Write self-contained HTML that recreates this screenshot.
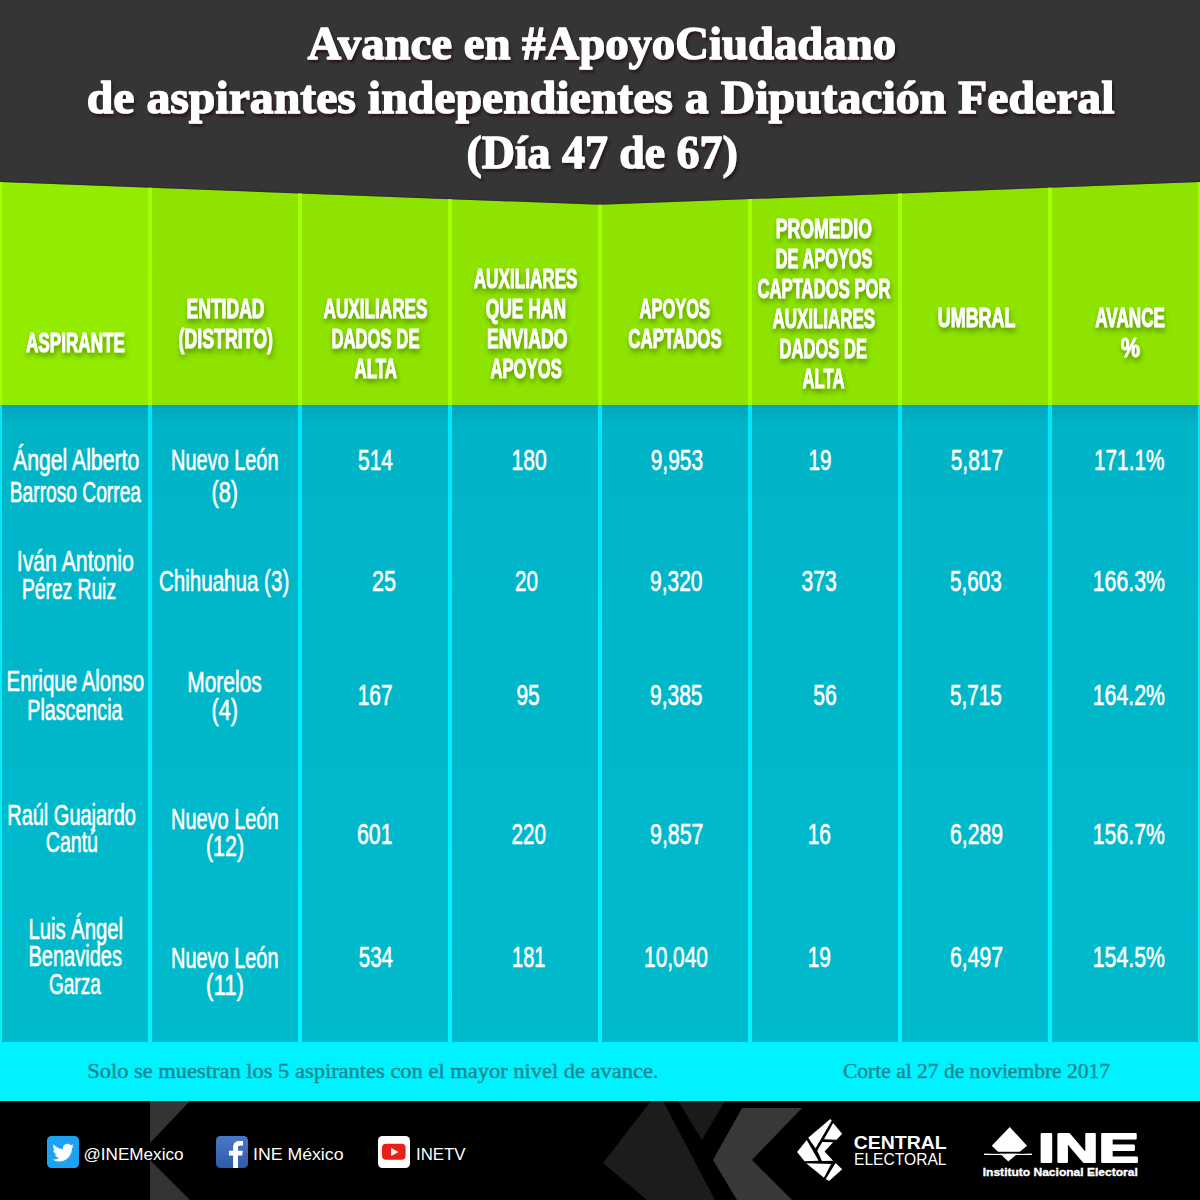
<!DOCTYPE html>
<html lang="es"><head><meta charset="utf-8"><title>Avance en #ApoyoCiudadano</title>
<style>html,body{margin:0;padding:0;background:#000;}body{width:1200px;height:1200px;overflow:hidden;font-family:"Liberation Sans",sans-serif;}svg{display:block}</style></head>
<body>
<svg width="1200" height="1200" viewBox="0 0 1200 1200">
<defs>
<linearGradient id="gGreen" x1="0" y1="0" x2="1" y2="0">
  <stop offset="0" stop-color="#94ed00"/><stop offset="0.125" stop-color="#93ec00"/><stop offset="0.125" stop-color="#8ee400"/><stop offset="1" stop-color="#8ee400"/>
</linearGradient>
<linearGradient id="gShadow" x1="0" y1="0" x2="0" y2="1">
  <stop offset="0" stop-color="#005a8c" stop-opacity="0.18"/><stop offset="1" stop-color="#005a8c" stop-opacity="0"/>
</linearGradient>
<linearGradient id="gTeal" x1="0" y1="0" x2="0" y2="1">
  <stop offset="0" stop-color="#00b4c8"/><stop offset="1" stop-color="#00bbcd"/>
</linearGradient>
<linearGradient id="gLime" x1="0" y1="0" x2="0" y2="1">
  <stop offset="0" stop-color="#a0ff00"/><stop offset="1" stop-color="#a2ff00"/>
</linearGradient>
<linearGradient id="gCyan" x1="0" y1="0" x2="0" y2="1">
  <stop offset="0" stop-color="#00e6f8"/><stop offset="1" stop-color="#00f6ff"/>
</linearGradient>
<filter id="fTitle" x="-5%" y="-20%" width="110%" height="160%">
  <feGaussianBlur in="SourceAlpha" stdDeviation="1.2"/>
  <feOffset dx="1.5" dy="2.5" result="b"/>
  <feFlood flood-color="#2a1820" flood-opacity="0.95"/>
  <feComposite in2="b" operator="in"/>
  <feMerge><feMergeNode/><feMergeNode in="SourceGraphic"/></feMerge>
</filter>
<filter id="fHead" x="-10%" y="-30%" width="120%" height="180%">
  <feGaussianBlur in="SourceAlpha" stdDeviation="2.4"/>
  <feOffset dx="1" dy="3.5" result="b"/>
  <feFlood flood-color="#2a4a00" flood-opacity="0.5"/>
  <feComposite in2="b" operator="in"/>
  <feMerge><feMergeNode/><feMergeNode in="SourceGraphic"/></feMerge>
</filter>
</defs>
<rect x="0" y="0" width="1200" height="1200" fill="#000"/>
<rect x="0" y="0" width="1200" height="206.8" fill="#353535"/>
<polygon points="0,182.0 600,204.8 1200,182.0 1200,405 0,405" fill="url(#gGreen)"/>
<clipPath id="cpG"><polygon points="0,182.0 600,204.8 1200,182.0 1200,405 0,405"/></clipPath>
<polyline points="0,181.4 600,204.20000000000002 1200,181.4" fill="none" stroke="#241c28" stroke-width="1.2" stroke-opacity="0.35"/>
<g clip-path="url(#cpG)"><rect x="0" y="170" width="2" height="235" fill="url(#gLime)"/><rect x="148" y="170" width="4" height="235" fill="url(#gLime)"/><rect x="298" y="170" width="4" height="235" fill="url(#gLime)"/><rect x="448" y="170" width="4" height="235" fill="url(#gLime)"/><rect x="598" y="170" width="4" height="235" fill="url(#gLime)"/><rect x="748" y="170" width="4" height="235" fill="url(#gLime)"/><rect x="898" y="170" width="4" height="235" fill="url(#gLime)"/><rect x="1048" y="170" width="4" height="235" fill="url(#gLime)"/><rect x="1198" y="170" width="2" height="235" fill="url(#gLime)"/></g>
<rect x="0" y="405" width="1200" height="637" fill="url(#gTeal)"/>
<rect x="0" y="405" width="1200" height="20" fill="url(#gShadow)"/>
<rect x="0" y="405" width="2" height="637" fill="url(#gCyan)"/><rect x="148" y="405" width="4" height="637" fill="url(#gCyan)"/><rect x="298" y="405" width="4" height="637" fill="url(#gCyan)"/><rect x="448" y="405" width="4" height="637" fill="url(#gCyan)"/><rect x="598" y="405" width="4" height="637" fill="url(#gCyan)"/><rect x="748" y="405" width="4" height="637" fill="url(#gCyan)"/><rect x="898" y="405" width="4" height="637" fill="url(#gCyan)"/><rect x="1048" y="405" width="4" height="637" fill="url(#gCyan)"/><rect x="1198" y="405" width="2" height="637" fill="url(#gCyan)"/>
<rect x="0" y="1042" width="1200" height="59" fill="#00f2ff"/>
<g>
<polygon points="150,1101 190,1101 150,1143" fill="#343434"/>
<polygon points="150,1160 150,1200 190,1200" fill="#343434"/>
<polygon points="603,1163 651,1101 663,1101 715,1200 647,1200" fill="#1c1c1c"/>
<polygon points="678,1101 725,1101 702,1140" fill="#1a1a1a"/>
<polygon points="742,1108 802,1108 752,1160 792,1200 737,1200 713,1160" fill="#383838"/>
</g>
<g font-family="Liberation Serif" font-size="46.5" font-weight="bold" text-anchor="middle" stroke-width="1.3" stroke-linejoin="round" fill="#fff" stroke="#fff" filter="url(#fTitle)"><text x="601.75" y="58.75" textLength="588.50" lengthAdjust="spacingAndGlyphs">Avance en #ApoyoCiudadano</text><text x="600.62" y="113.00" textLength="1027.75" lengthAdjust="spacingAndGlyphs">de aspirantes independientes a Diputación Federal</text><text x="602.12" y="167.50" textLength="271.25" lengthAdjust="spacingAndGlyphs">(Día 47 de 67)</text></g>
<g font-family="Liberation Sans" font-size="27.0" font-weight="bold" text-anchor="middle" stroke-width="0.95" stroke-linejoin="round" fill="#fff" stroke="#fff" filter="url(#fHead)"><text x="75.50" y="351.50" textLength="99.00" lengthAdjust="spacingAndGlyphs">ASPIRANTE</text><text x="225.50" y="317.50" textLength="78.00" lengthAdjust="spacingAndGlyphs">ENTIDAD</text><text x="225.75" y="347.50" textLength="94.50" lengthAdjust="spacingAndGlyphs">(DISTRITO)</text><text x="375.50" y="318.40" textLength="104.00" lengthAdjust="spacingAndGlyphs">AUXILIARES</text><text x="375.50" y="348.40" textLength="88.00" lengthAdjust="spacingAndGlyphs">DADOS DE</text><text x="375.75" y="378.40" textLength="42.50" lengthAdjust="spacingAndGlyphs">ALTA</text><text x="525.62" y="288.40" textLength="103.75" lengthAdjust="spacingAndGlyphs">AUXILIARES</text><text x="525.88" y="318.40" textLength="80.25" lengthAdjust="spacingAndGlyphs">QUE HAN</text><text x="527.25" y="348.40" textLength="80.50" lengthAdjust="spacingAndGlyphs">ENVIADO</text><text x="526.12" y="378.40" textLength="71.25" lengthAdjust="spacingAndGlyphs">APOYOS</text><text x="674.75" y="318.40" textLength="70.50" lengthAdjust="spacingAndGlyphs">APOYOS</text><text x="675.00" y="348.40" textLength="93.50" lengthAdjust="spacingAndGlyphs">CAPTADOS</text><text x="823.88" y="238.40" textLength="96.25" lengthAdjust="spacingAndGlyphs">PROMEDIO</text><text x="824.12" y="268.40" textLength="96.75" lengthAdjust="spacingAndGlyphs">DE APOYOS</text><text x="824.00" y="298.40" textLength="133.00" lengthAdjust="spacingAndGlyphs">CAPTADOS POR</text><text x="823.75" y="328.40" textLength="102.50" lengthAdjust="spacingAndGlyphs">AUXILIARES</text><text x="823.25" y="358.40" textLength="87.50" lengthAdjust="spacingAndGlyphs">DADOS DE</text><text x="823.50" y="388.40" textLength="42.00" lengthAdjust="spacingAndGlyphs">ALTA</text><text x="976.62" y="326.50" textLength="77.75" lengthAdjust="spacingAndGlyphs">UMBRAL</text><text x="1130.12" y="326.50" textLength="69.75" lengthAdjust="spacingAndGlyphs">AVANCE</text><text x="1130.38" y="356.50" textLength="19.25" lengthAdjust="spacingAndGlyphs">%</text></g>
<g font-family="Liberation Sans" font-size="28.8" font-weight="normal" text-anchor="middle" stroke-width="0.6" stroke-linejoin="round" fill="#fff" stroke="#fff" ><text x="76.13" y="470.00" textLength="126.25" lengthAdjust="spacingAndGlyphs">Ángel Alberto</text><text x="75.38" y="501.50" textLength="131.25" lengthAdjust="spacingAndGlyphs">Barroso Correa</text><text x="224.75" y="470.00" textLength="107.50" lengthAdjust="spacingAndGlyphs">Nuevo León</text><text x="224.75" y="501.50" textLength="26.50" lengthAdjust="spacingAndGlyphs">(8)</text><text x="375.50" y="470.00" textLength="35.00" lengthAdjust="spacingAndGlyphs">514</text><text x="529.12" y="470.00" textLength="35.25" lengthAdjust="spacingAndGlyphs">180</text><text x="676.88" y="470.00" textLength="52.25" lengthAdjust="spacingAndGlyphs">9,953</text><text x="820.00" y="470.00" textLength="23.00" lengthAdjust="spacingAndGlyphs">19</text><text x="976.88" y="470.00" textLength="52.25" lengthAdjust="spacingAndGlyphs">5,817</text><text x="1129.25" y="470.00" textLength="70.50" lengthAdjust="spacingAndGlyphs">171.1%</text><text x="75.25" y="571.25" textLength="117.00" lengthAdjust="spacingAndGlyphs">Iván Antonio</text><text x="69.00" y="598.50" textLength="94.00" lengthAdjust="spacingAndGlyphs">Pérez Ruiz</text><text x="224.12" y="590.50" textLength="130.25" lengthAdjust="spacingAndGlyphs">Chihuahua (3)</text><text x="384.00" y="590.75" textLength="24.00" lengthAdjust="spacingAndGlyphs">25</text><text x="526.50" y="590.75" textLength="23.00" lengthAdjust="spacingAndGlyphs">20</text><text x="676.25" y="590.75" textLength="52.50" lengthAdjust="spacingAndGlyphs">9,320</text><text x="819.12" y="590.75" textLength="35.25" lengthAdjust="spacingAndGlyphs">373</text><text x="975.87" y="590.75" textLength="51.75" lengthAdjust="spacingAndGlyphs">5,603</text><text x="1128.88" y="590.75" textLength="72.25" lengthAdjust="spacingAndGlyphs">166.3%</text><text x="75.38" y="691.25" textLength="137.75" lengthAdjust="spacingAndGlyphs">Enrique Alonso</text><text x="74.88" y="720.00" textLength="95.25" lengthAdjust="spacingAndGlyphs">Plascencia</text><text x="224.50" y="692.00" textLength="74.50" lengthAdjust="spacingAndGlyphs">Morelos</text><text x="224.75" y="720.00" textLength="26.50" lengthAdjust="spacingAndGlyphs">(4)</text><text x="375.12" y="705.00" textLength="34.75" lengthAdjust="spacingAndGlyphs">167</text><text x="528.12" y="705.00" textLength="23.25" lengthAdjust="spacingAndGlyphs">95</text><text x="676.25" y="705.00" textLength="52.50" lengthAdjust="spacingAndGlyphs">9,385</text><text x="825.00" y="705.00" textLength="23.50" lengthAdjust="spacingAndGlyphs">56</text><text x="975.87" y="705.00" textLength="51.75" lengthAdjust="spacingAndGlyphs">5,715</text><text x="1128.88" y="705.00" textLength="72.25" lengthAdjust="spacingAndGlyphs">164.2%</text><text x="71.62" y="825.00" textLength="128.75" lengthAdjust="spacingAndGlyphs">Raúl Guajardo</text><text x="71.88" y="852.00" textLength="52.25" lengthAdjust="spacingAndGlyphs">Cantú</text><text x="224.75" y="828.75" textLength="107.50" lengthAdjust="spacingAndGlyphs">Nuevo León</text><text x="225.00" y="856.00" textLength="38.00" lengthAdjust="spacingAndGlyphs">(12)</text><text x="374.75" y="844.25" textLength="35.50" lengthAdjust="spacingAndGlyphs">601</text><text x="528.75" y="844.25" textLength="34.50" lengthAdjust="spacingAndGlyphs">220</text><text x="676.75" y="844.25" textLength="53.50" lengthAdjust="spacingAndGlyphs">9,857</text><text x="819.37" y="844.25" textLength="23.25" lengthAdjust="spacingAndGlyphs">16</text><text x="976.50" y="844.25" textLength="53.00" lengthAdjust="spacingAndGlyphs">6,289</text><text x="1128.88" y="844.25" textLength="72.25" lengthAdjust="spacingAndGlyphs">156.7%</text><text x="75.75" y="938.75" textLength="94.50" lengthAdjust="spacingAndGlyphs">Luis Ángel</text><text x="75.25" y="966.25" textLength="93.50" lengthAdjust="spacingAndGlyphs">Benavides</text><text x="74.88" y="993.75" textLength="51.75" lengthAdjust="spacingAndGlyphs">Garza</text><text x="224.75" y="967.50" textLength="107.50" lengthAdjust="spacingAndGlyphs">Nuevo León</text><text x="225.00" y="995.00" textLength="38.00" lengthAdjust="spacingAndGlyphs">(11)</text><text x="375.88" y="967.40" textLength="34.25" lengthAdjust="spacingAndGlyphs">534</text><text x="528.75" y="967.40" textLength="33.50" lengthAdjust="spacingAndGlyphs">181</text><text x="676.00" y="967.40" textLength="64.00" lengthAdjust="spacingAndGlyphs">10,040</text><text x="819.37" y="967.40" textLength="23.25" lengthAdjust="spacingAndGlyphs">19</text><text x="976.50" y="967.40" textLength="53.00" lengthAdjust="spacingAndGlyphs">6,497</text><text x="1128.88" y="967.40" textLength="72.25" lengthAdjust="spacingAndGlyphs">154.5%</text></g>
<g font-family="Liberation Serif" font-size="20.5" font-weight="normal" text-anchor="middle" stroke-width="0.45" stroke-linejoin="round" fill="#188a96" stroke="#188a96" ><text x="372.88" y="1077.50" textLength="571.25" lengthAdjust="spacingAndGlyphs">Solo se muestran los 5 aspirantes con el mayor nivel de avance.</text><text x="976.50" y="1077.50" textLength="267.00" lengthAdjust="spacingAndGlyphs">Corte al 27 de noviembre 2017</text></g>
<g font-family="Liberation Sans" font-size="16" font-weight="normal" text-anchor="middle" fill="#fff"  ><text x="133.50" y="1159.60" textLength="100.00" lengthAdjust="spacingAndGlyphs">@INEMexico</text><text x="298.25" y="1159.60" textLength="90.50" lengthAdjust="spacingAndGlyphs">INE México</text><text x="440.75" y="1159.60" textLength="49.50" lengthAdjust="spacingAndGlyphs">INETV</text></g>
<g>
<rect x="47" y="1136" width="32" height="32" rx="4.5" fill="#1da1f2"/>
<path transform="translate(63.15,1152) scale(0.95) translate(-60.75,-1152)" fill="#fff" d="M72.2,1145.6c-0.9,0.4-1.8,0.6-2.7,0.7c1-0.6,1.7-1.5,2.1-2.6c-0.9,0.5-1.9,0.9-3,1.1c-0.9-0.9-2.1-1.5-3.4-1.5c-2.6,0-4.7,2.1-4.7,4.7c0,0.4,0,0.7,0.1,1.1c-3.9-0.2-7.4-2.1-9.7-4.9c-0.4,0.7-0.6,1.5-0.6,2.4c0,1.6,0.8,3.1,2.1,3.9c-0.8,0-1.5-0.2-2.1-0.6v0.1c0,2.3,1.6,4.2,3.8,4.6c-0.4,0.1-0.8,0.2-1.2,0.2c-0.3,0-0.6,0-0.9-0.1c0.6,1.9,2.3,3.2,4.4,3.3c-1.6,1.3-3.6,2-5.9,2c-0.4,0-0.8,0-1.1-0.1c2.1,1.3,4.6,2.1,7.2,2.1c8.7,0,13.4-7.2,13.4-13.4v-0.6C70.8,1147.4,71.6,1146.5,72.2,1145.6z"/>
<defs><linearGradient id="gFb" x1="0" y1="0" x2="0" y2="1"><stop offset="0" stop-color="#4a78c8"/><stop offset="1" stop-color="#2f5aa8"/></linearGradient></defs>
<rect x="216" y="1136" width="32" height="32" rx="4.5" fill="url(#gFb)"/>
<path fill="#fff" d="M238,1168v-12.4h4.2l0.6-4.8H238v-3.1c0-1.4,0.4-2.3,2.4-2.3h2.6v-4.3c-0.4-0.1-2-0.2-3.7-0.2c-3.7,0-6.2,2.2-6.2,6.4v3.5h-4.2v4.8h4.2V1168H238z"/>
<rect x="378" y="1136" width="32" height="32" rx="4.5" fill="#fff"/>
<rect x="382" y="1143.8" width="23.6" height="16" rx="4" fill="#e62117"/>
<polygon points="391.2,1148 391.2,1156 398.4,1152" fill="#fff"/>
</g>
<g transform="translate(794,1116)" fill="#fff">
<polygon points="14.2,21.8 36.3,3.1 37.7,4.8 21.5,32.3"/>
<polygon points="30,23.2 39.1,7.1 48.2,17.8 42.5,23.8"/>
<polygon points="3.1,36 12.7,24.1 24.6,44.8 10.5,45.3"/>
<polygon points="23.2,34.8 28.3,26.1 39.1,26.3 30.6,35.4 39.1,44.8 28,45"/>
<polygon points="12.2,47.3 37.1,47.9 30,61.8"/>
<polygon points="31.7,62.9 41.6,47 48.2,53.3 35.1,64.9"/>
</g>
<g fill="#fff" font-family="Liberation Sans">
<text x="853.7" y="1148.5" font-size="17.5" font-weight="bold" textLength="93" lengthAdjust="spacingAndGlyphs">CENTRAL</text>
<text x="854" y="1165" font-size="17" textLength="92.5" lengthAdjust="spacingAndGlyphs">ELECTORAL</text>
</g>
<g fill="#fff">
<polygon points="991.75,1145.75 1009.75,1127 1027,1145.75 1008.25,1161.5"/>
<rect x="984" y="1153.6" width="48" height="1.4" fill="#fff"/>
<rect x="990" y="1151.8" width="36" height="1.8" fill="#000"/>
<text x="1038" y="1161.5" font-family="Liberation Sans" font-weight="bold" font-size="40" textLength="101" lengthAdjust="spacingAndGlyphs" stroke="#fff" stroke-width="1.8" stroke-linejoin="round">INE</text>
<text x="982.75" y="1175.75" font-family="Liberation Sans" font-weight="bold" font-size="11.5" textLength="155" lengthAdjust="spacingAndGlyphs" stroke="#fff" stroke-width="0.35">Instituto Nacional Electoral</text>
</g>
</svg>
</body></html>
